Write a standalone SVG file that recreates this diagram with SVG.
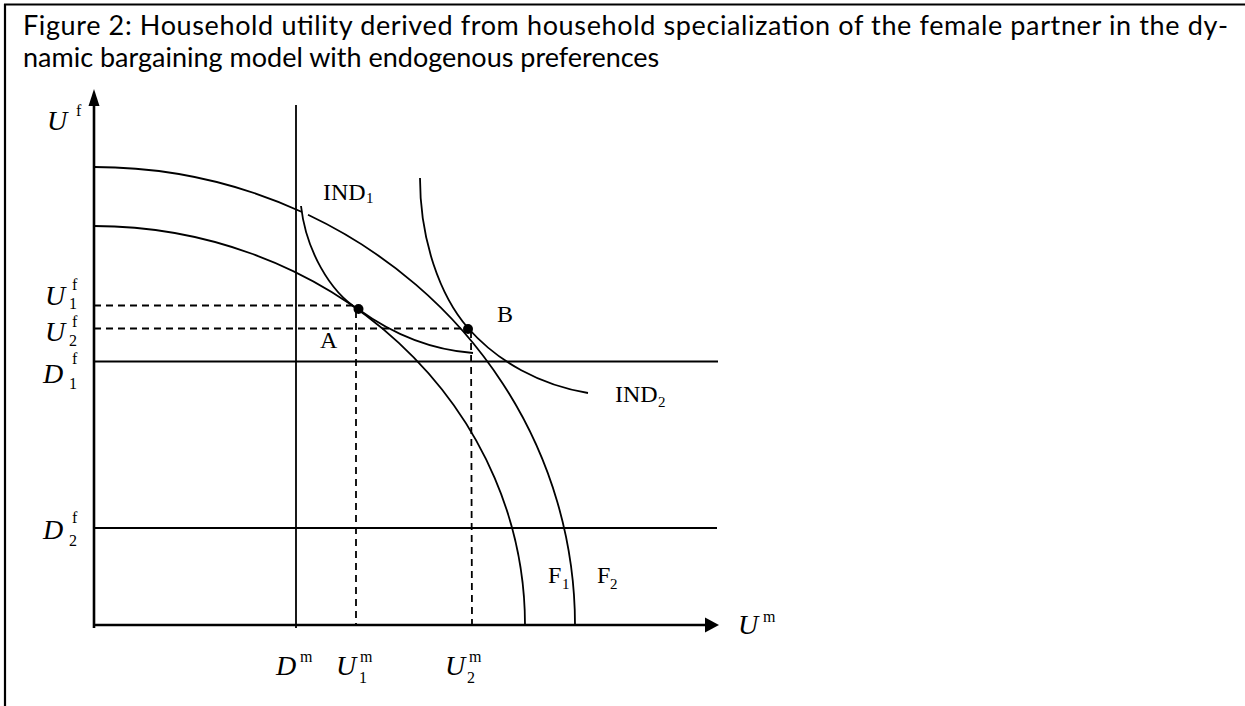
<svg xmlns="http://www.w3.org/2000/svg" width="1245" height="706" viewBox="0 0 1245 706">
<style>
.ln{fill:none;stroke:#000;stroke-width:1.8}
.ax{fill:none;stroke:#000;stroke-width:2.6}
.ds{fill:none;stroke:#000;stroke-width:1.8;stroke-dasharray:7 5}
.ttl{font-family:Lato,"Liberation Sans",sans-serif;font-size:27px;fill:#000}
.tm{font-family:"Liberation Serif","Times New Roman",serif;font-size:24px;fill:#000}
.tsub{font-family:"Liberation Serif","Times New Roman",serif;font-size:15px;fill:#000}
.mi{font-family:"Liberation Serif",serif;font-style:italic;font-size:28px;fill:#000}
.ms{font-family:"Liberation Serif",serif;font-size:16px;fill:#000}
</style>
<rect width="1245" height="706" fill="#fff"/>
<g id="frame">
<line x1="4" y1="4.5" x2="1245" y2="4.5" stroke="#000" stroke-width="2.2"/>
<line x1="5" y1="4" x2="5" y2="706" stroke="#000" stroke-width="2.2"/>
</g>
<g id="title">
<text class="ttl" x="23" y="35" textLength="1205" lengthAdjust="spacing">Figure 2: Household utility derived from household specialization of the female partner in the dy-</text>
<text class="ttl" x="23" y="67">namic bargaining model with endogenous preferences</text>
</g>
<g id="axes">
<line class="ax" x1="94" y1="628" x2="94" y2="104"/>
<polygon points="94,89 88.5,106 99.5,106" fill="#000"/>
<line class="ax" x1="93" y1="625" x2="707" y2="625"/>
<polygon points="719,625 705,617.5 705,632.5" fill="#000"/>
</g>
<g id="connectors">
<line class="ln" x1="296" y1="105" x2="296" y2="628"/>
<line class="ln" x1="94" y1="361.5" x2="718" y2="361.5"/>
<line class="ln" x1="94" y1="528" x2="717" y2="528"/>
<line class="ds" x1="94" y1="305.5" x2="358" y2="305.5"/>
<line class="ds" x1="94" y1="328.5" x2="468" y2="328.5"/>
<line class="ds" x1="356" y1="311" x2="356" y2="625"/>
<line class="ds" x1="471" y1="331" x2="472" y2="625"/>
</g>
<g id="F1">
<path class="ln" d="M94,226 A431,399 0 0 1 525,625"/>
</g>
<g id="F2">
<path class="ln" d="M94,167 A481,458 0 0 1 302,212"/>
<path class="ln" d="M308,214.8 A481,458 0 0 1 575,625"/>
</g>
<g id="IND1">
<path class="ln" d="M301,206 C306,250 330,292 358,309 C380,325 420,349 473,353"/>
</g>
<g id="IND2">
<path class="ln" d="M420,178 C420,240 440,296 468,328 C498,362 540,385 588,393"/>
</g>
<g id="pointA"><circle cx="358.5" cy="309" r="5"/></g>
<g id="pointB"><circle cx="468" cy="329" r="5"/></g>
<g id="labels">
<text class="tm" x="323" y="200">IND</text><text class="tsub" x="366" y="203">1</text>
<text class="tm" x="615" y="402">IND</text><text class="tsub" x="658" y="407">2</text>
<text class="tm" x="320" y="348">A</text>
<text class="tm" x="497" y="322">B</text>
<text class="tm" x="548" y="583">F</text><text class="tsub" x="562" y="589">1</text>
<text class="tm" x="597" y="583">F</text><text class="tsub" x="610" y="589">2</text>
<text class="mi" x="47" y="130">U</text><text class="ms" x="76" y="116">f</text>
<text class="mi" x="45" y="305">U</text><text class="ms" x="72" y="290">f</text><text class="ms" x="69" y="309">1</text>
<text class="mi" x="45" y="341">U</text><text class="ms" x="72" y="327">f</text><text class="ms" x="69" y="346">2</text>
<text class="mi" x="43" y="383">D</text><text class="ms" x="72" y="364">f</text><text class="ms" x="69" y="389">1</text>
<text class="mi" x="43" y="539">D</text><text class="ms" x="72" y="523">f</text><text class="ms" x="69" y="546">2</text>
<text class="mi" x="276" y="675">D</text><text class="ms" x="300" y="662">m</text>
<text class="mi" x="336" y="675">U</text><text class="ms" x="360" y="662">m</text><text class="ms" x="359" y="683">1</text>
<text class="mi" x="445" y="675">U</text><text class="ms" x="469" y="662">m</text><text class="ms" x="467" y="683">2</text>
<text class="mi" x="738" y="634">U</text><text class="ms" x="763" y="622">m</text>
</g>
</svg>
